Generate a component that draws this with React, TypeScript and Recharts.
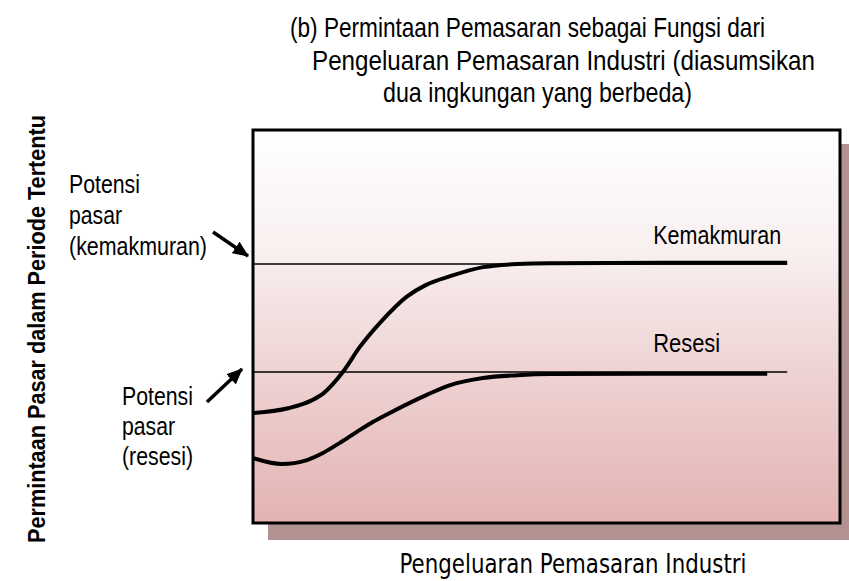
import { LineChart, Line, XAxis, YAxis, ReferenceLine, ReferenceArea } from "recharts";

// demand curves, x = marketing spend (0-100), y = demand (0-100)
const boomX = [0, 6, 10, 12, 15.3, 18.2, 22.1, 26.2, 29.5, 33.6, 39.2, 45, 50.6, 70, 91];
const boomY = [28, 29.2, 31.2, 33, 38.4, 44.8, 51.7, 57.6, 60.6, 62.8, 65.1, 65.9, 66.1, 66.2, 66.2];

const recessionX = [0, 4.9, 9.2, 11.9, 14.8, 17.7, 20.4, 23.3, 29.6, 33.6, 39.2, 45, 50.6, 67.6, 87.6];
const recessionY = [16.5, 15, 16, 17.8, 20.4, 23.2, 25.7, 28, 32.6, 35.1, 36.9, 37.6, 37.9, 38, 38];

const boomPotential = 65.9;
const recessionPotential = 38.4;
const potentialEndX = 91;

const titleLines = [
  "(b) Permintaan Pemasaran sebagai Fungsi dari",
  "Pengeluaran Pemasaran Industri (diasumsikan",
  "dua ingkungan yang berbeda)",
];

const boomData = boomX.map((x, i) => ({ x, y: boomY[i] }));
const recessionData = recessionX.map((x, i) => ({ x, y: recessionY[i] }));

const font = "'Liberation Sans', Arial, sans-serif";

// no narrow font installed: a smaller Arial-metric font stretched vertically
const Narrow = ({ x, y, w, size = 26, children }: any) => (
  <text
    transform={`translate(${x} ${y}) scale(1 1.22)`}
    x={0}
    y={0}
    fontFamily={font}
    fontSize={size * 0.82}
    fill="#000"
    textLength={w}
    lengthAdjust="spacingAndGlyphs"
  >
    {children}
  </text>
);

const curveLabel = (text: string, len: number) => (props: any) => {
  const vb = props.viewBox || {};
  return (
    <Narrow x={vb.x + vb.width - 134} y={vb.y - 20} w={len}>
      {text}
    </Narrow>
  );
};

export default function App() {
  return (
    <div
      style={{
        position: "absolute",
        left: 0,
        top: 0,
        width: 849,
        height: 581,
        overflow: "hidden",
        background: "#fff",
      }}
    >
      <svg width={0} height={0} style={{ position: "absolute" }}>
        <defs>
          <linearGradient id="bgGrad" x1="0" y1="0" x2="0" y2="1">
            <stop offset="0%" stopColor="#ffffff" />
            <stop offset="30%" stopColor="#f9f0f0" />
            <stop offset="60%" stopColor="#efd4d4" />
            <stop offset="100%" stopColor="#e4b3b3" />
          </linearGradient>
          <marker
            id="arrowHead"
            viewBox="0 0 16 14"
            refX={15}
            refY={7}
            markerWidth={16}
            markerHeight={14}
            markerUnits="userSpaceOnUse"
            orient="auto"
          >
            <path d="M0,0 L16,7 L0,14 z" fill="#000" />
          </marker>
        </defs>
      </svg>

      {/* drop shadow of the plot box */}
      <div
        style={{
          position: "absolute",
          left: 268,
          top: 144,
          width: 590,
          height: 396,
          background: "#b19291",
        }}
      />

      <div style={{ position: "absolute", left: 0, top: 0 }}>
        <LineChart
          width={849}
          height={581}
          margin={{ top: 130, right: 9, bottom: 58, left: 253 }}
        >
          <XAxis type="number" dataKey="x" domain={[0, 100]} hide allowDuplicatedCategory={false} />
          <YAxis type="number" domain={[0, 100]} hide />
          <ReferenceArea
            x1={0}
            x2={100}
            y1={0}
            y2={100}
            fill="url(#bgGrad)"
            fillOpacity={1}
            stroke="#000"
            strokeWidth={3}
            ifOverflow="visible"
          />
          <ReferenceLine
            segment={[
              { x: 0, y: boomPotential },
              { x: potentialEndX, y: boomPotential },
            ]}
            stroke="#000"
            strokeWidth={1.5}
            label={curveLabel("Kemakmuran", 128)}
          />
          <ReferenceLine
            segment={[
              { x: 0, y: recessionPotential },
              { x: potentialEndX, y: recessionPotential },
            ]}
            stroke="#000"
            strokeWidth={1.5}
            label={curveLabel("Resesi", 67)}
          />
          <Line
            data={boomData}
            dataKey="y"
            type="monotone"
            stroke="#000"
            strokeWidth={4}
            dot={false}
            isAnimationActive={false}
          />
          <Line
            data={recessionData}
            dataKey="y"
            type="monotone"
            stroke="#000"
            strokeWidth={4}
            dot={false}
            isAnimationActive={false}
          />
        </LineChart>
      </div>

      <svg
        width={849}
        height={581}
        style={{ position: "absolute", left: 0, top: 0, pointerEvents: "none" }}
      >
        {/* title */}
        <Narrow x={290} y={37} w={475} size={28}>{titleLines[0]}</Narrow>
        <Narrow x={312} y={70} w={503} size={28}>{titleLines[1]}</Narrow>
        <Narrow x={383} y={102} w={309} size={28}>{titleLines[2]}</Narrow>

        {/* axis titles */}
        <text
          x={45}
          y={329}
          transform="rotate(-90 45 329)"
          textAnchor="middle"
          fontFamily={font}
          fontWeight="bold"
          fontSize={24}
          textLength={428}
          lengthAdjust="spacingAndGlyphs"
        >
          Permintaan Pasar dalam Periode Tertentu
        </text>
        <text
          x={573}
          y={573}
          textAnchor="middle"
          fontFamily="Tahoma, 'DejaVu Sans', sans-serif"
          fontSize={27}
          textLength={347}
          lengthAdjust="spacingAndGlyphs"
        >
          Pengeluaran Pemasaran Industri
        </text>

        {/* annotations */}
        <Narrow x={69} y={193} w={71}>Potensi</Narrow>
        <Narrow x={69} y={224} w={53}>pasar</Narrow>
        <Narrow x={69} y={255} w={138}>(kemakmuran)</Narrow>
        <Narrow x={122} y={405} w={71}>Potensi</Narrow>
        <Narrow x={122} y={435} w={53}>pasar</Narrow>
        <Narrow x={122} y={465} w={71}>(resesi)</Narrow>
        <line x1={213} y1={232} x2={248} y2={256} stroke="#000" strokeWidth={3.5} markerEnd="url(#arrowHead)" />
        <line x1={207} y1={402} x2={242} y2={369} stroke="#000" strokeWidth={3.5} markerEnd="url(#arrowHead)" />
      </svg>
    </div>
  );
}
